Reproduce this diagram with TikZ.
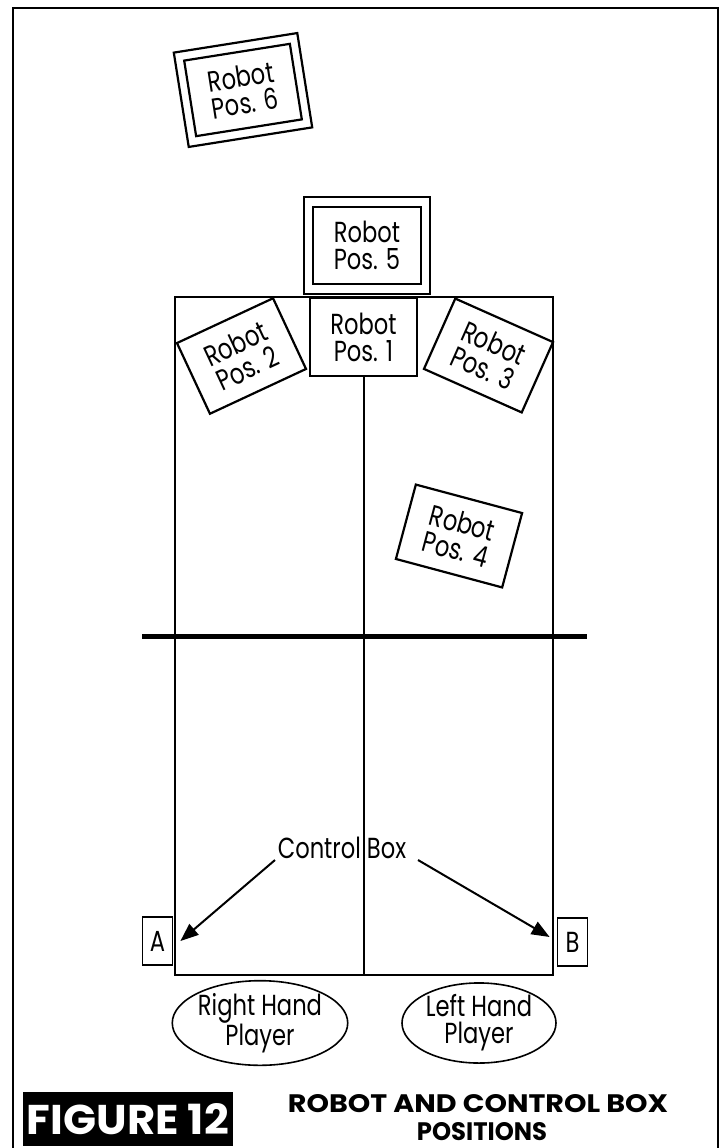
\documentclass[tikz,border=0pt]{standalone}
\usepackage{fontspec}
\setmainfont{Poppins}[FakeStretch=0.78]
\newfontfamily\titlefont{Poppins}[FakeStretch=0.8]
\usetikzlibrary{arrows.meta,shapes.geometric}
\begin{document}
\begin{tikzpicture}[x=1pt,y=-1pt,
  lbl/.style={font=\fontsize{29}{27}\selectfont},
  robot/.style={draw,line width=2.2pt,inner sep=0pt,align=center,lbl},
  frameout/.style={draw,line width=2.2pt,inner sep=0pt},
  court/.style={line width=2pt},
  cbox/.style={draw,line width=1.8pt,inner sep=0pt,minimum width=30pt,minimum height=48pt,lbl},
  player/.style={draw,ellipse,line width=1.6pt,inner sep=0pt,minimum width=154pt,minimum height=76pt,align=center,lbl},
  pointer/.style={line width=2pt,-{Triangle[length=18pt,width=14pt]}}
]
\useasboundingbox (0,0) rectangle (725,1148);
% outer frame, open at the bottom
\draw[line width=2.5pt] (13,1148) -- (13,8) -- (718,8) -- (718,1148);
% court
\draw[court] (175,297) rectangle (553,975);
\draw[line width=5pt] (142,636) -- (587,636);
% robot positions
\node[robot,minimum width=107pt,minimum height=78pt] (p1) at (363.5,337) {Robot\\Pos. 1};
\draw[court] (p1.south) -- (p1.south |- 0,975);
\node[robot,minimum width=106pt,minimum height=78pt,rotate=25] (p2) at (241.5,356) {Robot\\Pos. 2};
\node[robot,minimum width=107pt,minimum height=77pt,rotate=-24] (p3) at (488.5,355.5) {Robot\\Pos. 3};
\node[robot,minimum width=110pt,minimum height=77pt,rotate=-15] (p4) at (459,536) {Robot\\Pos. 4};
\node[robot,minimum width=108pt,minimum height=77pt] (p5) at (367,245.5) {Robot\\Pos. 5};
\node[frameout,minimum width=126pt,minimum height=97pt] (p5o) at (367,245.5) {};
\node[robot,minimum width=107pt,minimum height=76.5pt,rotate=9] (p6) at (243,90) {Robot\\Pos. 6};
\node[frameout,minimum width=125pt,minimum height=95.5pt,rotate=9] (p6o) at (243,90) {};
% control boxes
\node[cbox] (A) at (157.5,941) {A};
\node[cbox] (B) at (572.5,942) {B};
\node[lbl,inner sep=0pt] (cb) at (342,848) {Control Box};
\coordinate (cbl) at (275,860);
\coordinate (cbr) at (418,860);
\draw[pointer] (cbl) -- ([xshift=7pt]A.east);
\draw[pointer] (cbr) -- ([xshift=-7pt,yshift=5pt]B.west);
% players
\node[player] (rh) at (260,1023) {Right Hand\\Player};
\node[player] (lh) at (479,1023) {Left Hand\\Player};
% caption
\node[fill=black,minimum width=210pt,minimum height=54pt,inner sep=0pt] (fig) at (128,1119)
  {\color{white}\resizebox{202pt}{31pt}{\titlefont\bfseries FIGURE\ 12}};
\node[inner sep=0pt,anchor=base] (t1) at (478,1112) {\resizebox{380pt}{18pt}{\titlefont\bfseries ROBOT AND CONTROL BOX}};
\node[inner sep=0pt,anchor=base] (t2) at (482,1140) {\resizebox{130pt}{18pt}{\titlefont\bfseries POSITIONS}};
\end{tikzpicture}
\end{document}
